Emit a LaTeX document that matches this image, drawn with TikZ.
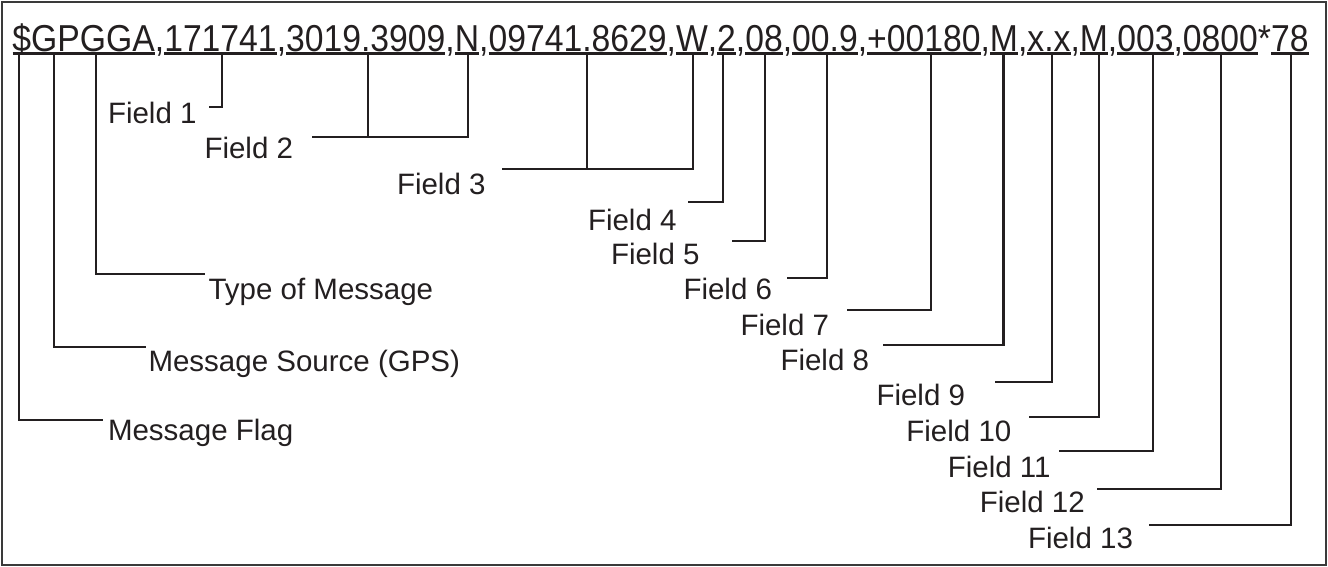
\documentclass[tikz,border=0pt]{standalone}
\usepackage{fontspec}
\setmainfont{Liberation Sans}
\newfontfamily\topfamily[FakeStretch=0.899]{Liberation Sans}
\definecolor{ink}{HTML}{231F20}
\definecolor{framecol}{HTML}{3A3A3A}
\begin{document}
\begin{tikzpicture}[x=1pt,y=-1pt,
  topchunk/.style={anchor=base west,inner sep=0pt,outer sep=0pt,text=ink,
    font={\topfamily\fontsize{37.5}{40}\selectfont}},
  lbl/.style={anchor=base west,inner sep=0pt,outer sep=0pt,text=ink,
    font={\fontsize{29.5}{32}\selectfont}},
  lead/.style={draw=ink,line width=2.3pt,line join=miter},
  uline/.style={draw=ink,line width=2.2pt},
  frameline/.style={draw=framecol,line width=2.2pt}]
\useasboundingbox (0,0) rectangle (1328,567);
\draw[frameline] (2,2) rectangle (1326,565);

% sentence
\node[topchunk] (c1) at (12.5,51.5) {\$GPGGA};
\node[topchunk] (s1) at (c1.base east) {,};
\node[topchunk] (c2) at (s1.base east) {171741};
\node[topchunk] (s2) at (c2.base east) {,};
\node[topchunk] (c3) at (s2.base east) {3019.3909};
\node[topchunk] (s3) at (c3.base east) {,};
\node[topchunk] (c4) at (s3.base east) {N};
\node[topchunk] (s4) at (c4.base east) {,};
\node[topchunk] (c5) at (s4.base east) {09741.8629};
\node[topchunk] (s5) at (c5.base east) {,};
\node[topchunk] (c6) at (s5.base east) {W};
\node[topchunk] (s6) at (c6.base east) {,};
\node[topchunk] (c7) at (s6.base east) {2};
\node[topchunk] (s7) at (c7.base east) {,};
\node[topchunk] (c8) at (s7.base east) {08};
\node[topchunk] (s8) at (c8.base east) {,};
\node[topchunk] (c9) at (s8.base east) {00.9};
\node[topchunk] (s9) at (c9.base east) {,};
\node[topchunk] (c10) at (s9.base east) {+00180};
\node[topchunk] (s10) at (c10.base east) {,};
\node[topchunk] (c11) at (s10.base east) {M};
\node[topchunk] (s11) at (c11.base east) {,};
\node[topchunk] (c12) at (s11.base east) {x.x};
\node[topchunk] (s12) at (c12.base east) {,};
\node[topchunk] (c13) at (s12.base east) {M};
\node[topchunk] (s13) at (c13.base east) {,};
\node[topchunk] (c14) at (s13.base east) {003};
\node[topchunk] (s14) at (c14.base east) {,};
\node[topchunk] (c15) at (s14.base east) {0800};
\node[topchunk] (s15) at (c15.base east) {*};
\node[topchunk] (c16) at (s15.base east) {78};
\foreach \n in {c1,c2,c3,c4,c5,c6,c7,c8,c9,c10,c11,c12,c13,c14,c15,c16}
  \draw[uline] ([yshift=-2pt]\n.base west) -- ([yshift=-2pt]\n.base east);

% labels
\node[lbl] (lflag) at (108,440.5) {Message Flag};
\node[lbl] (lsrc) at (148.5,371) {Message Source (GPS)};
\node[lbl] (ltype) at (208.5,299.3) {Type of Message};
\node[lbl] (f1) at (108,124) {Field 1};
\node[lbl] (f2) at (204.5,159) {Field 2};
\node[lbl] (f3) at (397,194.3) {Field 3};
\node[lbl] (f4) at (588,230) {Field 4};
\node[lbl] (f5) at (611,264) {Field 5};
\node[lbl] (f6) at (683.5,299.3) {Field 6};
\node[lbl] (f7) at (740.5,335) {Field 7};
\node[lbl] (f8) at (780.5,370.7) {Field 8};
\node[lbl] (f9) at (876.5,405.8) {Field 9};
\node[lbl] (f10) at (906.4,441) {Field 10};
\node[lbl] (f11) at (947.8,477) {Field 11};
\node[lbl] (f12) at (979.8,512.5) {Field 12};
\node[lbl] (f13) at (1028,548.8) {Field 13};

% leader end points
\coordinate (tflag) at (19,53.5);   \coordinate (eflag) at (102.7,420);
\coordinate (tsrc) at (54,53.5);    \coordinate (esrc) at (145.7,347.3);
\coordinate (ttype) at (95.7,53.5); \coordinate (etype) at (205,274.2);
\coordinate (t1) at (221.7,53.5);   \coordinate (e1) at (209,106.7);
\coordinate (t2a) at (367.7,53.5);  \coordinate (t2b) at (468.3,53.5);
\coordinate (e2) at (312.3,137.3);
\coordinate (t3a) at (587.3,53.5);  \coordinate (t3b) at (692.8,53.5);
\coordinate (e3) at (501.7,169.3);
\coordinate (t4) at (723.3,53.5);   \coordinate (e4) at (688.3,202.3);
\coordinate (t5) at (765,53.5);     \coordinate (e5) at (732.3,241.3);
\coordinate (t6) at (826.7,53.5);   \coordinate (e6) at (787.3,277.7);
\coordinate (t7) at (931,53.5);     \coordinate (e7) at (847.3,310);
\coordinate (t8) at (1003.5,53.5);  \coordinate (e8) at (882.7,345.1);
\coordinate (t9) at (1051.7,53.5);  \coordinate (e9) at (995.3,382);
\coordinate (t10) at (1099,53.5);   \coordinate (e10) at (1029,416.9);
\coordinate (t11) at (1153.3,53.5); \coordinate (e11) at (1059.3,451.2);
\coordinate (t12) at (1220.7,53.5); \coordinate (e12) at (1097,489.3);
\coordinate (t13) at (1291,53.5);   \coordinate (e13) at (1149,525.3);

% leaders
\draw[lead] (tflag) |- (eflag);
\draw[lead] (tsrc) |- (esrc);
\draw[lead] (ttype) |- (etype);
\draw[lead] (t1) |- (e1);
\draw[lead] (t2b) |- (e2);
\draw[lead] (t2a) -- (t2a |- e2);
\draw[lead] (t3b) |- (e3);
\draw[lead] (t3a) -- (t3a |- e3);
\draw[lead] (t4) |- (e4);
\draw[lead] (t5) |- (e5);
\draw[lead] (t6) |- (e6);
\draw[lead] (t7) |- (e7);
\draw[lead] (t8) |- (e8);
\draw[lead] (t9) |- (e9);
\draw[lead] (t10) |- (e10);
\draw[lead] (t11) |- (e11);
\draw[lead] (t12) |- (e12);
\draw[lead] (t13) |- (e13);
\end{tikzpicture}
\end{document}
